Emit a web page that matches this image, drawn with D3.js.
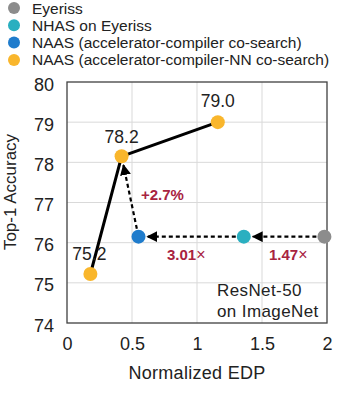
<!DOCTYPE html>
<html>
<head>
<meta charset="utf-8">
<script src="https://cdn.jsdelivr.net/npm/d3@7"></script>
<style>
  body { margin: 0; background: #fff; }
  text { font-family: "Liberation Sans", Arial, sans-serif; }
</style>
</head>
<body>
<div id="chart"></div>
<script>
// data
var seriesNames = ['Eyeriss', 'NHAS on Eyeriss', 'NAAS (accelerator-compiler co-search)', 'NAAS (accelerator-compiler-NN co-search)'];
var seriesColors = ['#8c8c8c', '#2aafc0', '#1f7ccc', '#f9b62c'];
var eyerissPt = [1.98, 76.15];
var nhasPt = [1.36, 76.15];
var naasPt = [0.55, 76.15];
var naasNNedp = [0.18, 0.42, 1.16];
var naasNNacc = [75.22, 78.15, 79.0];
var naasNNlabels = ['75.2', '78.2', '79.0'];
var xTicks = [0, 0.5, 1, 1.5, 2];
var xTickLabels = ['0', '0.5', '1', '1.5', '2'];
var yTicks = [74, 75, 76, 77, 78, 79, 80];

var W = 338, H = 416;
var svg = d3.select('#chart').append('svg')
    .attr('width', W)
    .attr('height', H);

var x = d3.scaleLinear().domain([0, 2]).range([67, 327]);
var y = d3.scaleLinear().domain([74, 80]).range([323, 82]);

var defs = svg.append('defs');
defs.append('marker')
    .attr('id', 'arr')
    .attr('viewBox', '0 0 10 10')
    .attr('refX', 9).attr('refY', 5)
    .attr('markerWidth', 5).attr('markerHeight', 5)
    .attr('markerUnits', 'strokeWidth')
    .attr('orient', 'auto')
  .append('path')
    .attr('d', 'M0,0 L10,5 L0,10 Z')
    .attr('fill', '#000');

// grid
svg.append('g').selectAll('line.gx')
    .data(xTicks.slice(1, -1))
    .enter().append('line')
    .attr('x1', d => x(d)).attr('x2', d => x(d))
    .attr('y1', y(74)).attr('y2', y(80))
    .attr('stroke', '#d9d9d9').attr('stroke-width', 1);
svg.append('g').selectAll('line.gy')
    .data(yTicks.slice(1, -1))
    .enter().append('line')
    .attr('x1', x(0)).attr('x2', x(2))
    .attr('y1', d => y(d)).attr('y2', d => y(d))
    .attr('stroke', '#d9d9d9').attr('stroke-width', 1);

// frame
svg.append('rect')
    .attr('x', x(0)).attr('y', y(80))
    .attr('width', x(2) - x(0)).attr('height', y(74) - y(80))
    .attr('fill', 'none').attr('stroke', '#404040').attr('stroke-width', 1.3);

// axes text
var xAxis = d3.axisBottom(x).tickValues(xTicks).tickFormat((d, i) => xTickLabels[i]).tickSize(0).tickPadding(14);
var gx = svg.append('g').attr('transform', 'translate(0,' + y(74) + ')').call(xAxis);
gx.select('.domain').remove();
gx.selectAll('text').attr('font-size', 18).attr('fill', '#222').style('font-family', '"Liberation Sans", Arial, sans-serif');

var yAxis = d3.axisLeft(y).tickValues(yTicks).tickFormat(d3.format('d')).tickSize(0).tickPadding(13);
var gy = svg.append('g').attr('transform', 'translate(' + x(0) + ',0)').call(yAxis);
gy.select('.domain').remove();
gy.selectAll('text').attr('font-size', 18).attr('fill', '#222').attr('dy', '0.45em').style('font-family', '"Liberation Sans", Arial, sans-serif');

svg.append('text')
    .attr('x', 197).attr('y', 379)
    .attr('text-anchor', 'middle')
    .attr('font-size', 18).attr('fill', '#222')
    .style('letter-spacing', '0.3px')
    .text('Normalized EDP');
svg.append('text')
    .attr('transform', 'translate(16,192) rotate(-90)')
    .attr('text-anchor', 'middle')
    .attr('font-size', 17).attr('fill', '#222')
    .text('Top-1 Accuracy');

// solid line through co-search points
var nnPts = naasNNedp.map((d, i) => [d, naasNNacc[i]]);
svg.append('path')
    .datum(nnPts)
    .attr('d', d3.line().x(d => x(d[0])).y(d => y(d[1])))
    .attr('fill', 'none').attr('stroke', '#000').attr('stroke-width', 3);

// dashed arrows
var r = 7;
function arrow(a, b) {
  var x1 = x(a[0]), y1 = y(a[1]), x2 = x(b[0]), y2 = y(b[1]);
  var dx = x2 - x1, dy = y2 - y1, len = Math.sqrt(dx * dx + dy * dy);
  var ux = dx / len, uy = dy / len;
  svg.append('line')
      .attr('x1', x1 + ux * (r + 1)).attr('y1', y1 + uy * (r + 1))
      .attr('x2', x2 - ux * (r + 2)).attr('y2', y2 - uy * (r + 2))
      .attr('stroke', '#000').attr('stroke-width', 2.2)
      .attr('stroke-dasharray', '4,3')
      .attr('marker-end', 'url(#arr)');
}
arrow(eyerissPt, nhasPt);
arrow(nhasPt, naasPt);
arrow(naasPt, nnPts[1]);

// points
svg.append('circle').attr('cx', x(eyerissPt[0])).attr('cy', y(eyerissPt[1])).attr('r', r).attr('fill', seriesColors[0]);
svg.append('circle').attr('cx', x(nhasPt[0])).attr('cy', y(nhasPt[1])).attr('r', r).attr('fill', seriesColors[1]);
svg.append('circle').attr('cx', x(naasPt[0])).attr('cy', y(naasPt[1])).attr('r', r).attr('fill', seriesColors[2]);
svg.selectAll('circle.nn')
    .data(nnPts)
    .enter().append('circle')
    .attr('cx', d => x(d[0])).attr('cy', d => y(d[1]))
    .attr('r', r).attr('fill', seriesColors[3]);

// value labels
var labelOff = [[-1, -14], [0, -13], [0, -15]];
svg.selectAll('text.val')
    .data(nnPts)
    .enter().append('text')
    .attr('x', (d, i) => x(d[0]) + labelOff[i][0])
    .attr('y', (d, i) => y(d[1]) + labelOff[i][1])
    .attr('text-anchor', 'middle')
    .attr('font-size', 17.5).attr('fill', '#222')
    .text((d, i) => naasNNlabels[i]);

// annotations
var red = '#a8233f';
function note(tx, ty, num, suffix) {
  var t = svg.append('text').attr('x', tx).attr('y', ty).attr('font-size', 15).attr('fill', red);
  t.append('tspan').attr('font-weight', 'bold').text(num);
  if (suffix) t.append('tspan').attr('font-size', 16).text(suffix);
}
note(141, 200, '+2.7%', '');
note(167, 260, '3.01', '\u00d7');
note(269, 260, '1.47', '\u00d7');

svg.append('text').attr('x', 217).attr('y', 296).attr('font-size', 17).style('letter-spacing', '0.4px').attr('fill', '#222').text('ResNet-50');
svg.append('text').attr('x', 217).attr('y', 317).attr('font-size', 17).style('letter-spacing', '0.4px').attr('fill', '#222').text('on ImageNet');

// legend
var lg = svg.append('g').selectAll('g')
    .data(seriesNames)
    .enter().append('g')
    .attr('transform', (d, i) => 'translate(0,' + (8 + i * 17.3) + ')');
lg.append('circle').attr('cx', 14).attr('cy', 0).attr('r', 6).attr('fill', (d, i) => seriesColors[i]);
lg.append('text').attr('x', 32).attr('y', 5.5).attr('font-size', 15.5).attr('fill', '#222').text(d => d);
</script>
</body>
</html>
